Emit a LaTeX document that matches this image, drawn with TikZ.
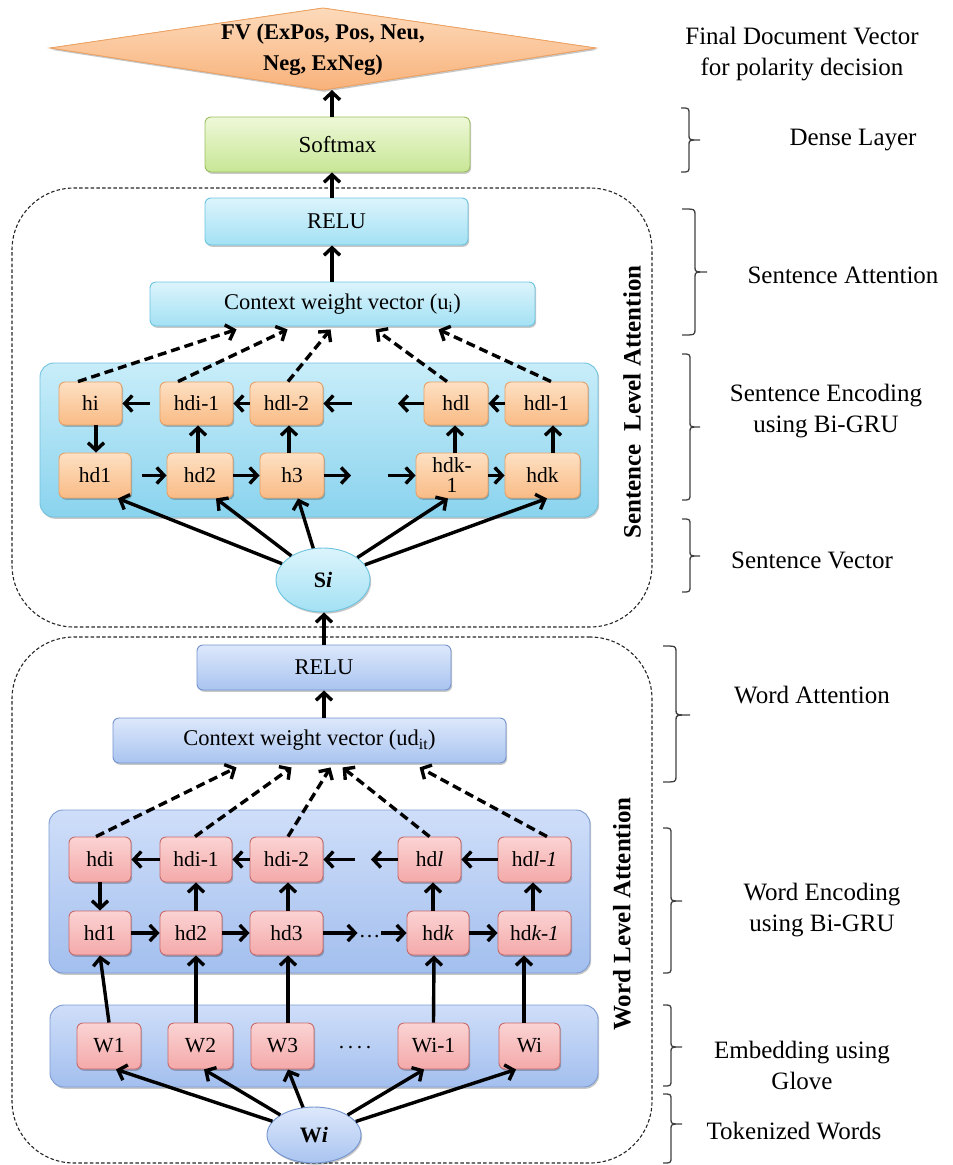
\documentclass[tikz,border=0pt]{standalone}
\usepackage{fontspec}
\setmainfont{Liberation Serif}
\usetikzlibrary{arrows.meta,calc,shadows,shapes.geometric}
\definecolor{cyanT}{HTML}{DCF4FC}
\definecolor{cyanD}{HTML}{A3E1F4}
\definecolor{cyanB}{HTML}{6BC4E0}
\definecolor{inSt}{HTML}{C8EDF9}
\definecolor{inSd}{HTML}{8AD3EE}
\definecolor{inSb}{HTML}{71C2DE}
\definecolor{orT}{HTML}{FDE0C3}
\definecolor{orD}{HTML}{F9BB85}
\definecolor{orB}{HTML}{E9A065}
\definecolor{rdT}{HTML}{FBD3D3}
\definecolor{rdD}{HTML}{F4A9A9}
\definecolor{rdB}{HTML}{C96A6A}
\definecolor{blT}{HTML}{DDE8FB}
\definecolor{blD}{HTML}{A9C4F0}
\definecolor{blB}{HTML}{7393CF}
\definecolor{inWt}{HTML}{CFDEF9}
\definecolor{inWd}{HTML}{A3BFEE}
\definecolor{inWb}{HTML}{7C9BD3}
\definecolor{grT}{HTML}{EEF8D8}
\definecolor{grD}{HTML}{C7E695}
\definecolor{grB}{HTML}{9CBF5E}
\definecolor{dmT}{HTML}{FDDABB}
\definecolor{dmD}{HTML}{F8B27A}
\definecolor{dmB}{HTML}{F0A464}
\definecolor{brkc}{HTML}{404040}
\newcommand\lblfont{\fontsize{21.5}{22}\selectfont}
\newcommand\bigfont{\fontsize{22.5}{24}\selectfont}
\newcommand\rlfont{\fontsize{25}{31}\selectfont}
\newcommand\brkt[6]{\draw[brk] (#1,#4) .. controls (#2,#4) .. (#2,#4+6) -- (#2,#5-5) .. controls (#2,#5) .. (#3,#5) .. controls (#2,#5) .. (#2,#5+5) -- (#2,#6-6) .. controls (#2,#6) .. (#1,#6);}
\begin{document}
\begin{tikzpicture}[x=1pt,y=-1pt,
  sz/.style 2 args={minimum width=#1pt,minimum height=#2pt},
  shd/.style={drop shadow={shadow xshift=1.2pt,shadow yshift=-1.8pt,opacity=0.22,fill=black}},
  base/.style={rounded corners=6pt,line width=0.9pt,inner sep=0pt,shd,align=center},
  gbox/.style={base,draw=grB,top color=grT,bottom color=grD,font=\bigfont},
  cbox/.style={base,draw=cyanB,top color=cyanT,bottom color=cyanD,font=\bigfont},
  bbox/.style={base,draw=blB,top color=blT,bottom color=blD,font=\bigfont},
  obox/.style={base,draw=orB,top color=orT,bottom color=orD,font=\lblfont},
  rbox/.style={base,draw=rdB,top color=rdT,bottom color=rdD,font=\lblfont},
  sinbox/.style={base,rounded corners=14pt,draw=inSb,top color=inSt,bottom color=inSd},
  winbox/.style={base,rounded corners=14pt,draw=inWb,top color=inWt,bottom color=inWd},
  dashframe/.style={draw=black!85,line width=1.1pt,dash pattern=on 3.5pt off 2.2pt,rounded corners=62pt,inner sep=0pt},
  arr/.style={line width=3.4pt,-{Straight Barb[length=7.5pt,width=16pt]}},
  darr/.style={line width=3.4pt,dash pattern=on 9pt off 5pt,-{Straight Barb[length=7.5pt,width=16pt]}},
  brk/.style={draw=brkc,line width=1.3pt},
  lbl/.style={font=\rlfont,align=center,inner sep=0pt},
  rotlbl/.style={font=\bfseries\fontsize{25}{27}\selectfont,rotate=90,inner sep=0pt}
]
\useasboundingbox (0,0) rectangle (953,1165);

% ---------- frames ----------
\node[dashframe,sz={640}{439}] (sframe) at (332,407.5) {};
\node[dashframe,sz={640}{526}] (wframe) at (332,900) {};
\node[sinbox,sz={558}{154}] (sinner) at (319,440) {};
\node[winbox,sz={541}{163}] (winner) at (319.5,891.5) {};
\node[winbox,sz={548}{82}] (embed) at (324,1046) {};

% ---------- top ----------
\filldraw[draw=dmB,line width=0.9pt,top color=dmT,bottom color=dmD,shd] (50,48) -- (323,8) -- (596,48) -- (323,90) -- cycle;
\node[font=\bfseries\fontsize{22.5}{31}\selectfont,align=center,inner sep=0pt] (fv) at (323,49.5) {FV (ExPos, Pos, Neu,\\Neg, ExNeg)};
\coordinate (fvb) at (332,90);
\node[gbox,sz={265}{55},font=\fontsize{23}{25}\selectfont] (softmax) at (337.5,144.5) {Softmax};

% ---------- sentence level ----------
\node[cbox,sz={263}{47}] (srelu) at (336.5,221.5) {RELU};
\node[cbox,sz={385}{44}] (sctx) at (342.5,304) {Context weight vector (u\textsubscript{i})};

\node[obox,sz={63}{43}] (s_hi)   at (90.5,403.5) {hi};
\node[obox,sz={73}{43}] (s_hdi1) at (196.5,403.5) {hdi-1};
\node[obox,sz={73}{43}] (s_hdl2) at (286.5,403.5) {hdl-2};
\node[obox,sz={64}{43}] (s_hdl)  at (456,403.5) {hdl};
\node[obox,sz={83}{43}] (s_hdl1) at (546.5,403.5) {hdl-1};
\node[obox,sz={72}{45}] (s_hd1)  at (95,475.5) {hd1};
\node[obox,sz={66}{45}] (s_hd2)  at (200,475.5) {hd2};
\node[obox,sz={64}{45}] (s_h3)   at (292,475.5) {h3};
\node[obox,sz={72}{45},font=\fontsize{21.5}{20}\selectfont] (s_hdk1) at (452,475.5) {hdk-\\1};
\node[obox,sz={75}{45}] (s_hdk)  at (542.5,475.5) {hdk};

\node[ellipse,draw=cyanB,line width=0.9pt,top color=cyanT,bottom color=cyanD,shd,
      minimum width=94pt,minimum height=64pt,inner sep=0pt,font=\bfseries\fontsize{22}{24}\selectfont] (si) at (323,580) {S\textit{i}};

\coordinate (sf1) at (352,403.5);
\coordinate (sf2) at (398,403.5);
\coordinate (sf3) at (351,475.5);
\coordinate (sf4) at (388,475.5);

% ---------- word level ----------
\node[bbox,sz={254}{45}] (wrelu) at (324,667.5) {RELU};
\node[bbox,sz={393}{45}] (wctx) at (309.5,740.5) {Context weight vector (ud\textsubscript{it})};

\node[rbox,sz={62}{45}] (w_hdi)  at (100,859.5) {hdi};
\node[rbox,sz={72}{45}] (w_hdi1) at (196,859.5) {hdi-1};
\node[rbox,sz={73}{45}] (w_hdi2) at (286.5,859.5) {hdi-2};
\node[rbox,sz={63}{45}] (w_hdl)  at (429.5,859.5) {hd\textit{l}};
\node[rbox,sz={73}{45}] (w_hdl1) at (534.5,859.5) {hd\textit{l-1}};
\node[rbox,sz={62}{44}] (w_hd1)  at (100,933) {hd1};
\node[rbox,sz={62}{44}] (w_hd2)  at (191,933) {hd2};
\node[rbox,sz={73}{44}] (w_hd3)  at (286.5,933) {hd3};
\node[rbox,sz={62}{44}] (w_hdk)  at (438,933) {hd\textit{k}};
\node[rbox,sz={73}{44}] (w_hdk1) at (534.5,933) {hd\textit{k-1}};
\node[font=\lblfont,inner sep=1pt] (wdots) at (369.5,937) {\ldots};
\coordinate (wf1) at (355,859.5);
\coordinate (wf2) at (371,859.5);

\node[rbox,sz={64}{46}] (W1)  at (109,1046) {W1};
\node[rbox,sz={65}{46}] (W2)  at (200.5,1046) {W2};
\node[rbox,sz={63}{46}] (W3)  at (282.5,1046) {W3};
\node[font=\lblfont,inner sep=0pt] (edots) at (355,1048) {.\,.\,.\,.};
\node[rbox,sz={71}{46}] (Wi1) at (433.5,1046) {Wi-1};
\node[rbox,sz={61}{46}] (Wi)  at (529.5,1046) {Wi};

\node[ellipse,draw=blB,line width=0.9pt,top color=blT,bottom color=blD,shd,
      minimum width=94pt,minimum height=56pt,inner sep=0pt,font=\bfseries\fontsize{22}{24}\selectfont] (wi) at (314,1135) {W\textit{i}};

% ---------- arrows: top ----------
\draw[arr] ([xshift=-5.5pt]softmax.north) -- (fvb);
\draw[arr] ([xshift=-4.5pt]srelu.north) -- ([xshift=-5.5pt]softmax.south);
\draw[arr] ([xshift=-10.5pt]sctx.north) -- ([xshift=-4.5pt]srelu.south);

% sentence dashed
\draw[darr] ($(s_hi.north)+(-12.5,0)$)  -- ($(sctx.south west)+(87,3)$);
\draw[darr] ($(s_hdi1.north)+(-18.5,0)$) -- ($(sctx.south west)+(138,3)$);
\draw[darr] ($(s_hdl2.north)+(1.5,0)$)  -- ($(sctx.south west)+(181,3)$);
\draw[darr] ($(s_hdl.north)+(-9,0)$)    -- ($(sctx.south west)+(226,3)$);
\draw[darr] ($(s_hdl1.north)+(4.5,0)$)  -- ($(sctx.south west)+(289,3)$);

% sentence rows
\draw[arr,shorten <=10pt] (s_hdi1.west) -- (s_hi.east);
\draw[arr] (s_hdl2.west) -- (s_hdi1.east);
\draw[arr] (sf1) -- (s_hdl2.east);
\draw[arr] (s_hdl.west) -- (sf2);
\draw[arr] (s_hdl1.west) -- (s_hdl.east);
\draw[arr,shorten <=11pt] (s_hd1.east) -- (s_hd2.west);
\draw[arr] (s_hd2.east) -- (s_h3.west);
\draw[arr] (s_h3.east) -- (sf3);
\draw[arr] (sf4) -- (s_hdk1.west);
\draw[arr] (s_hdk1.east) -- (s_hdk.west);
\draw[arr] ($(s_hi.south)+(5.5,0)$) -- ($(s_hd1.north)+(1,0)$);
\draw[arr] ($(s_hd2.north)+(-2,0)$) -- ($(s_hdi1.south)+(1.5,0)$);
\draw[arr] ($(s_h3.north)+(-3,0)$) -- ($(s_hdl2.south)+(2.5,0)$);
\draw[arr] ($(s_hdk1.north)+(3,0)$) -- ($(s_hdl.south)+(-1,0)$);
\draw[arr] ($(s_hdk.north)+(10.5,0)$) -- ($(s_hdl1.south)+(6.5,0)$);

% Si fan
\draw[arr] (si) -- ($(s_hd1.south)+(23,0)$);
\draw[arr] (si) -- ($(s_hd2.south)+(16,0)$);
\draw[arr] (si) -- ($(s_h3.south)+(6,0)$);
\draw[arr] (si) -- ($(s_hdk1.south)+(-4,0)$);
\draw[arr] (si) -- ($(s_hdk.south)+(4.5,0)$);

% ---------- arrows: word ----------
\draw[arr] (wrelu.north) -- (wrelu.north |- si.south);
\draw[arr] (wctx.north -| wrelu.north) -- (wrelu.south);

\draw[darr] ($(w_hdi.north)+(-4,0)$)   -- ($(wctx.south west)+(124,4)$);
\draw[darr] ($(w_hdi1.north)+(-1,0)$)  -- ($(wctx.south west)+(179,4)$);
\draw[darr] ($(w_hdi2.north)+(1.5,0)$) -- ($(wctx.south west)+(218,4)$);
\draw[darr] (w_hdl.north)              -- ($(wctx.south west)+(230,4)$);
\draw[darr] ($(w_hdl1.north)+(12.5,0)$) -- ($(wctx.south west)+(307,4)$);

\draw[arr] (w_hdi1.west) -- (w_hdi.east);
\draw[arr] (w_hdi2.west) -- (w_hdi1.east);
\draw[arr] (wf1) -- (w_hdi2.east);
\draw[arr] (w_hdl.west) -- (wf2);
\draw[arr] (w_hdl1.west) -- (w_hdl.east);
\draw[arr] (w_hd1.east) -- (w_hd2.west);
\draw[arr] (w_hd2.east) -- (w_hd3.west);
\draw[arr] (w_hd3.east) -- (wdots.west |- w_hd3.east);
\draw[arr] (wdots.east |- w_hdk.west) -- (w_hdk.west);
\draw[arr] (w_hdk.east) -- (w_hdk1.west);
\draw[arr] (w_hdi.south) -- (w_hd1.north);
\draw[arr] ($(w_hd2.north)+(5,0)$) -- (w_hdi1.south);
\draw[arr] ($(w_hd3.north)+(1.5,0)$) -- ($(w_hdi2.south)+(1.5,0)$);
\draw[arr] ($(w_hdk.north)+(-5,0)$) -- ($(w_hdl.south)+(3.5,0)$);
\draw[arr] ($(w_hdk1.north)+(-1.5,0)$) -- ($(w_hdl1.south)+(-1.5,0)$);

\draw[arr] (W1.north) -- (w_hd1.south);
\draw[arr] ($(W2.north)+(-4.5,0)$) -- ($(w_hd2.south)+(5,0)$);
\draw[arr] ($(W3.north)+(5.5,0)$) -- ($(w_hd3.south)+(1.5,0)$);
\draw[arr] (Wi1.north) -- ($(w_hdk.south)+(-4,0)$);
\draw[arr] ($(Wi.north)+(-5.5,0)$) -- ($(w_hdk1.south)+(-10.5,0)$);

\draw[arr] (wi) -- ($(W1.south)+(7,0)$);
\draw[arr] (wi) -- ($(W2.south)+(3.5,0)$);
\draw[arr] (wi) -- ($(W3.south)+(5.5,0)$);
\draw[arr] (wi) -- ($(Wi1.south)+(-9.5,0)$);
\draw[arr] (wi) -- ($(Wi.south)+(-13.5,0)$);

% ---------- rotated labels ----------
\node[rotlbl] (slab) at (632,402) {Sentence\ \ Level Attention};
\node[rotlbl] (wlab) at (622,914) {Word Level Attention};

% ---------- brackets ----------
\brkt{681}{689}{700}{108}{140}{172}
\brkt{682}{695}{707}{209}{272}{335}
\brkt{682}{690}{700}{354}{427}{500}
\brkt{682}{690}{700}{519}{556}{592}
\brkt{663}{676}{690}{646}{715}{782}
\brkt{663}{671}{682}{828}{901}{973}
\brkt{663}{671}{682}{1005}{1047}{1086}
\brkt{663}{671}{682}{1094}{1124}{1163}

% ---------- right labels ----------
\node[lbl] (l1) at (802,54) {Final Document Vector\\for polarity decision};
\node[lbl] (l2) at (853,140) {Dense Layer};
\node[lbl] (l3) at (843,275) {Sentence Attention};
\node[lbl] (l4) at (826,411) {Sentence Encoding\\using Bi-GRU};
\node[lbl] (l5) at (812,560) {Sentence Vector};
\node[lbl] (l6) at (812,695) {Word Attention};
\node[lbl] (l7) at (822,910) {Word Encoding\\using Bi-GRU};
\node[lbl] (l8) at (802,1065) {Embedding using\\Glove};
\node[lbl] (l9) at (794,1131) {Tokenized Words};
\end{tikzpicture}
\end{document}
